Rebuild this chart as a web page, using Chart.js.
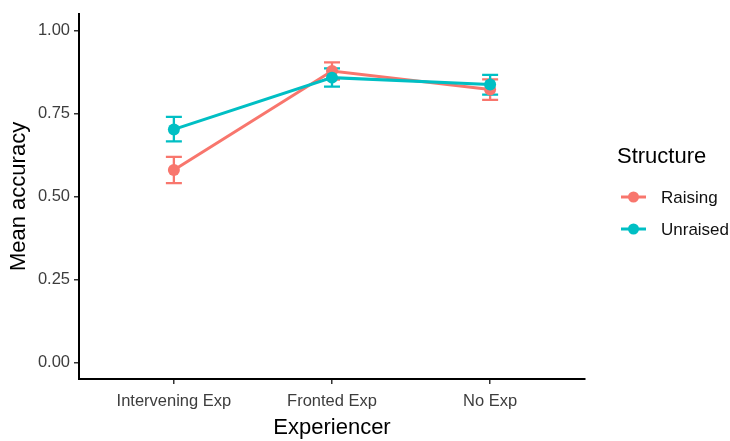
<!DOCTYPE html>
<html>
<head>
<meta charset="utf-8">
<script src="https://cdn.jsdelivr.net/npm/chart.js@4"></script>
<style>
  body { margin: 0; background: #fff; }
  #chart { display: block; }
</style>
</head>
<body>
<canvas id="chart" width="730" height="441"></canvas>
<script>
const categories = ["Intervening Exp", "Fronted Exp", "No Exp"];
const raising = [0.580, 0.878, 0.822];
const raisingLow = [0.540, 0.852, 0.791];
const raisingHigh = [0.619, 0.904, 0.853];
const unraised = [0.702, 0.858, 0.837];
const unraisedLow = [0.666, 0.831, 0.807];
const unraisedHigh = [0.740, 0.886, 0.866];
const yTicks = [0, 0.25, 0.5, 0.75, 1];

const RED = "#F8766D";
const CYAN = "#00BFC4";
const FONT = "'Liberation Sans', Arial, sans-serif";

const toPoints = arr => arr.map((v, i) => ({x: i, y: v}));

// error bars drawn under the lines, using the chart's own scales
const errorBars = {
    id: "errorBars",
    beforeDatasetsDraw(chart) {
        const ctx = chart.ctx;
        const xs = chart.scales.x, ys = chart.scales.y;
        chart.data.datasets.forEach(ds => {
            ctx.save();
            ctx.strokeStyle = ds.borderColor;
            ctx.lineWidth = 2.3;
            ds.low.forEach((lo, i) => {
                const x = xs.getPixelForValue(i);
                const y1 = ys.getPixelForValue(lo);
                const y2 = ys.getPixelForValue(ds.high[i]);
                ctx.beginPath();
                ctx.moveTo(x, y1); ctx.lineTo(x, y2);
                ctx.moveTo(x - 8, y1); ctx.lineTo(x + 8, y1);
                ctx.moveTo(x - 8, y2); ctx.lineTo(x + 8, y2);
                ctx.stroke();
            });
            ctx.restore();
        });
    }
};

// ggplot style legend on the right
const sideLegend = {
    id: "sideLegend",
    afterDraw(chart) {
        const ctx = chart.ctx;
        ctx.save();
        ctx.fillStyle = "#000";
        ctx.textBaseline = "middle";
        ctx.textAlign = "left";
        ctx.font = "22px " + FONT;
        ctx.fillText("Structure", 617, 157);
        const rows = [197, 229];
        chart.data.datasets.forEach((ds, i) => {
            const y = rows[i];
            ctx.strokeStyle = ds.borderColor;
            ctx.lineWidth = 3;
            ctx.beginPath();
            ctx.moveTo(621, y); ctx.lineTo(646, y);
            ctx.stroke();
            ctx.fillStyle = ds.borderColor;
            ctx.beginPath();
            ctx.arc(633.5, y, 5.5, 0, Math.PI * 2);
            ctx.fill();
            ctx.fillStyle = "#111";
            ctx.font = "17px " + FONT;
            ctx.fillText(ds.label, 661, y + 1);
        });
        ctx.restore();
    }
};

new Chart(document.getElementById("chart"), {
    type: "line",
    data: {
        datasets: [
            {
                label: "Raising",
                data: toPoints(raising),
                low: raisingLow,
                high: raisingHigh,
                borderColor: RED,
                backgroundColor: RED,
                pointBackgroundColor: RED,
                borderWidth: 3,
                pointRadius: 6,
                pointBorderWidth: 0,
                order: 2
            },
            {
                label: "Unraised",
                data: toPoints(unraised),
                low: unraisedLow,
                high: unraisedHigh,
                borderColor: CYAN,
                backgroundColor: CYAN,
                pointBackgroundColor: CYAN,
                borderWidth: 3,
                pointRadius: 6,
                pointBorderWidth: 0,
                order: 1
            }
        ]
    },
    options: {
        responsive: false,
        animation: false,
        layout: {padding: {left: 0, top: 9, right: 145, bottom: 0}},
        plugins: {
            legend: {display: false},
            tooltip: {enabled: false}
        },
        scales: {
            x: {
                type: "linear",
                min: -0.6,
                max: 2.6,
                afterBuildTicks: s => { s.ticks = categories.map((c, i) => ({value: i})); },
                afterFit: s => { s.height = 62; },
                grid: {drawOnChartArea: false, drawTicks: true, tickLength: 5, color: "#333", lineWidth: 1.5},
                border: {display: true, color: "#000", width: 2},
                ticks: {
                    callback: v => categories[v],
                    color: "#3d3d3d",
                    font: {family: FONT, size: 16.5},
                    padding: 8,
                    maxRotation: 0,
                    autoSkip: false
                },
                title: {
                    display: true,
                    text: "Experiencer",
                    color: "#000",
                    font: {family: FONT, size: 22},
                    padding: {top: 0, bottom: 0}
                }
            },
            y: {
                min: -0.05,
                max: 1.05,
                afterBuildTicks: s => { s.ticks = yTicks.map(v => ({value: v})); },
                afterFit: s => { s.width = 79; },
                grid: {drawOnChartArea: false, drawTicks: true, tickLength: 5, color: "#333", lineWidth: 1.5},
                border: {display: true, color: "#000", width: 2},
                ticks: {
                    callback: v => v.toFixed(2),
                    color: "#3d3d3d",
                    font: {family: FONT, size: 16.5},
                    padding: 4
                },
                title: {
                    display: true,
                    text: "Mean accuracy",
                    color: "#000",
                    font: {family: FONT, size: 22},
                    padding: {top: 6, bottom: 0}
                }
            }
        }
    },
    plugins: [errorBars, sideLegend]
});
</script>
</body>
</html>
